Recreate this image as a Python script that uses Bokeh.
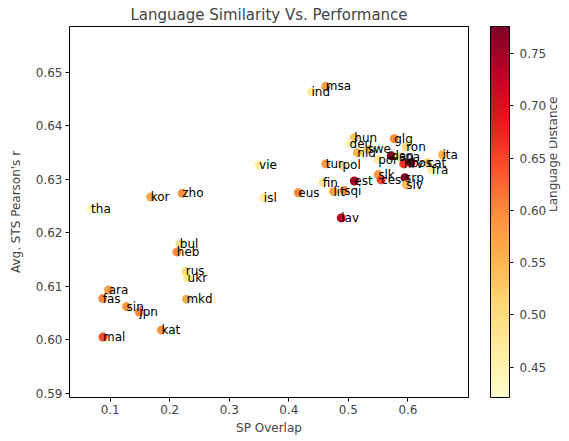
import math
from bokeh.plotting import figure
from bokeh.models import (ColumnDataSource, LinearColorMapper, ColorBar, FixedTicker,
                          PrintfTickFormatter, Range1d, LinearAxis)
from bokeh.palettes import YlOrRd9, interp_palette
from bokeh.core.properties import value
from bokeh.embed import file_html
from bokeh.resources import INLINE

langs = ["tha", "kor", "zho", "isl", "vie", "eus", "ind", "msa", "lav",
         "bul", "heb", "rus", "ukr", "mkd", "ara", "fas", "sin", "jpn", "kat", "mal",
         "hun", "deu", "glg", "ron", "nld", "swe", "dan", "spa", "tur", "pol", "por",
         "hrv", "bos", "cat", "fra", "ita", "fin", "lit", "sqi", "est", "slk", "ces",
         "srp", "slv"]
sp_overlap = [0.068, 0.168, 0.221, 0.358, 0.350, 0.416, 0.438, 0.462, 0.488,
              0.217, 0.212, 0.227, 0.230, 0.228, 0.0975, 0.0875, 0.1275, 0.149, 0.186, 0.088,
              0.510, 0.502, 0.577, 0.597, 0.515, 0.532, 0.572, 0.585, 0.462, 0.490, 0.550,
              0.593, 0.605, 0.633, 0.640, 0.658, 0.457, 0.475, 0.493, 0.510, 0.550, 0.555,
              0.595, 0.597]
sts_r = [0.6245, 0.6267, 0.6274, 0.6266, 0.6327, 0.6275, 0.6464, 0.6474, 0.6228,
         0.6179, 0.6164, 0.6128, 0.6116, 0.6076, 0.6093, 0.6077, 0.6062, 0.6052, 0.6018, 0.6005,
         0.6378, 0.6367, 0.6376, 0.6361, 0.6350, 0.6356, 0.6344, 0.6342, 0.6329, 0.6326, 0.6337,
         0.6329, 0.6331, 0.6331, 0.6318, 0.6346, 0.6294, 0.6277, 0.6279, 0.6297, 0.6309, 0.6299,
         0.6303, 0.6290]
lang_dist = [0.44, 0.57, 0.59, 0.47, 0.46, 0.60, 0.47, 0.58, 0.73,
             0.50, 0.60, 0.50, 0.48, 0.56, 0.58, 0.60, 0.59, 0.60, 0.59, 0.645,
             0.53, 0.45, 0.60, 0.50, 0.55, 0.52, 0.776, 0.50, 0.58, 0.50, 0.47,
             0.66, 0.776, 0.52, 0.47, 0.55, 0.47, 0.57, 0.60, 0.75, 0.58, 0.65,
             0.776, 0.54]
x_ticks = [0.1, 0.2, 0.3, 0.4, 0.5, 0.6]
y_ticks = [0.59, 0.60, 0.61, 0.62, 0.63, 0.64, 0.65]
cb_ticks = [0.45, 0.50, 0.55, 0.60, 0.65, 0.70, 0.75]

FONT = "DejaVu Sans"
src = ColumnDataSource(dict(x=sp_overlap, y=sts_r, lang=langs, d=lang_dist))
mapper = LinearColorMapper(palette=interp_palette(list(reversed(YlOrRd9)), 256),
                           low=0.421, high=0.776)

p = figure(width=569, height=441, output_backend="svg", toolbar_location=None,
           x_range=Range1d(0.0317, 0.7017), y_range=Range1d(0.5892, 0.6586),
           min_border_left=69, min_border_right=98, min_border_top=26, min_border_bottom=44)
p.title.text = "Language Similarity Vs. Performance"
p.title.align = "center"
p.title.text_font = FONT
p.title.text_font_size = "15px"
p.title.text_font_style = "normal"
p.title.standoff = 6

p.scatter("x", "y", source=src, size=9, line_color=None,
          fill_color={"field": "d", "transform": mapper})
p.text("x", "y", text="lang", source=src, text_font=value(FONT), text_font_size="12px",
       text_align="left", text_baseline="alphabetic", text_color="black")

p.grid.visible = False
p.outline_line_color = "black"
p.outline_line_width = 1
for ax in (p.xaxis[0], p.yaxis[0]):
    ax.axis_line_color = None
    ax.major_tick_out = 4
    ax.major_tick_in = 0
    ax.minor_tick_line_color = None
    ax.major_label_text_font = FONT
    ax.major_label_text_font_size = "12px"
    ax.major_label_standoff = 3
    ax.axis_label_text_font = FONT
    ax.axis_label_text_font_size = "12px"
    ax.axis_label_text_font_style = "normal"
p.xaxis.ticker = FixedTicker(ticks=x_ticks)
p.xaxis.formatter = PrintfTickFormatter(format="%.1f")
p.xaxis.axis_label = "SP Overlap"
p.xaxis.axis_label_standoff = 4
p.yaxis.ticker = FixedTicker(ticks=y_ticks)
p.yaxis.formatter = PrintfTickFormatter(format="%.2f")
p.yaxis.axis_label = "Avg. STS Pearson's r"
p.yaxis.axis_label_standoff = 10

# invisible spacer between frame and colour bar
spacer = LinearAxis(ticker=FixedTicker(ticks=[0.62]), axis_line_color=None,
                    major_tick_line_color=None, minor_tick_line_color=None,
                    major_tick_out=22, major_tick_in=0, minor_tick_out=0,
                    major_label_text_color=None, major_label_text_font_size="2px",
                    major_label_standoff=0)
p.add_layout(spacer, "right")

cb = ColorBar(color_mapper=mapper, ticker=FixedTicker(ticks=cb_ticks),
              formatter=PrintfTickFormatter(format="%.2f"), width=19,
              bar_line_color="black", major_tick_line_color="black",
              major_tick_out=4, major_tick_in=0, minor_tick_line_color=None,
              major_label_text_font=FONT, major_label_text_font_size="12px",
              label_standoff=6, padding=0)
p.add_layout(cb, "right")

cb_label = LinearAxis(ticker=FixedTicker(ticks=[]), axis_line_color=None,
                      major_tick_line_color=None, minor_tick_line_color=None,
                      major_tick_out=0, major_tick_in=0, minor_tick_out=0,
                      axis_label="Language Distance", axis_label_standoff=3,
                      axis_label_orientation=math.pi / 2,
                      axis_label_text_font=FONT, axis_label_text_font_size="12px",
                      axis_label_text_font_style="normal")
p.add_layout(cb_label, "right")

open("out.html", "w").write(file_html(p, INLINE))
